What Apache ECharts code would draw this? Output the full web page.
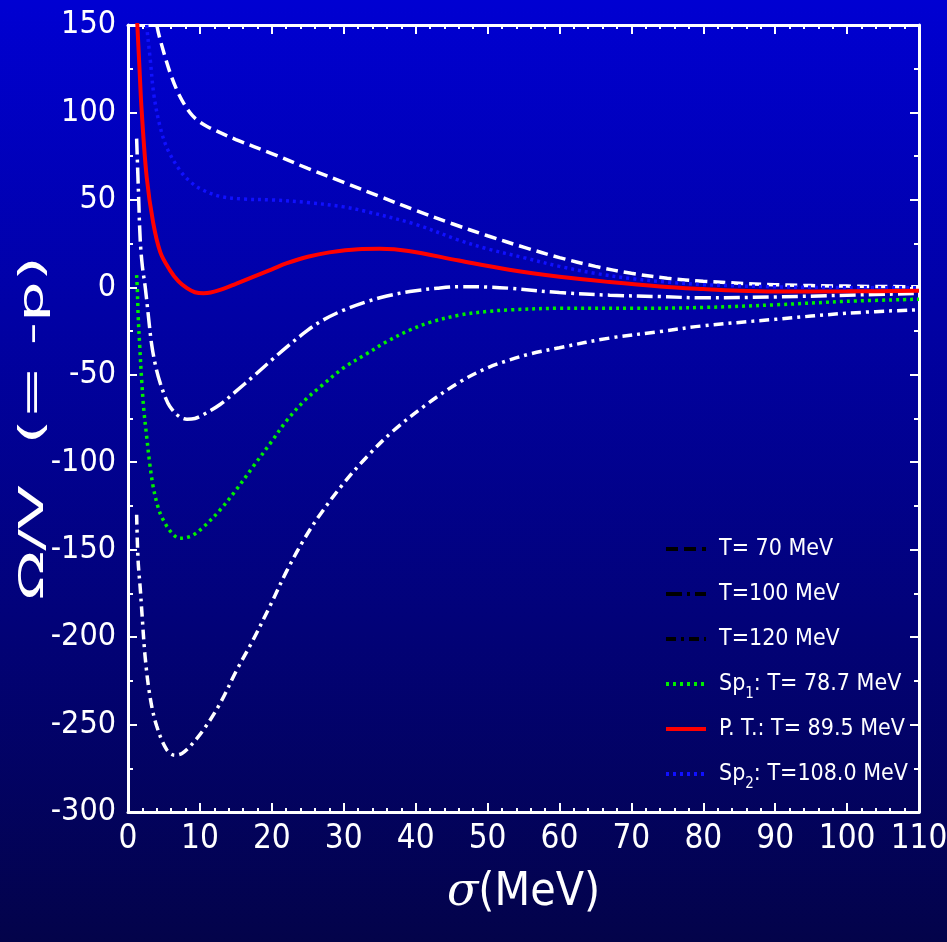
<!DOCTYPE html>
<html>
<head>
<meta charset="utf-8">
<script src="https://cdn.jsdelivr.net/npm/echarts@6/dist/echarts.min.js"></script>
<style>
  html, body { margin: 0; padding: 0; }
  #chart {
    width: 947px; height: 942px;
    background: linear-gradient(to bottom, #0000d2 0%, #03034a 100%);
  }
</style>
</head>
<body>
<div id="chart"></div>
<script>
// Thermodynamic potential curves Omega/V versus sigma (MeV)
const xTicks = [0, 10, 20, 30, 40, 50, 60, 70, 80, 90, 100, 110];
const yTicks = [-300, -250, -200, -150, -100, -50, 0, 50, 100, 150];

const seriesNames = [
  'T= 70 MeV',
  'T=100 MeV',
  'T=120 MeV',
  'Sp1: T= 78.7 MeV',
  'P. T.: T= 89.5 MeV',
  'Sp2: T=108.0 MeV'
];

// T = 70 MeV
const sigma70 = [3.4, 4, 5, 6, 7, 8, 9, 10, 11, 12, 15, 20, 25, 30, 35, 40, 45, 50, 55, 60, 65, 70, 75, 80, 90, 100, 110];
const omega70 = [170, 150, 134, 121, 111, 103.5, 98, 94.5, 92, 90, 84.5, 76.5, 68, 60, 52, 44, 36.5, 29.5, 23, 17, 12, 8, 5.2, 3.5, 1.5, 0.7, 0.3];

// T = 100 MeV
const sigma100 = [1.2, 1.45, 1.7, 2.0, 2.4, 2.8, 3.3, 3.9, 4.5, 5.2, 5.8, 7, 8.2, 9.3, 10.4, 12.8, 15, 17.4, 20, 22.1, 25, 27, 30, 33.2, 36, 39.2, 43, 46.2, 50, 53, 60, 67, 74, 80, 90, 100, 110];
const omega100 = [85, 55, 27, 12, 0, -15, -33, -46, -55, -63, -68, -73.5, -75.4, -75, -73, -67, -59.5, -51, -41.5, -34, -24.5, -19, -13, -8.2, -5, -2.4, -0.5, 0.4, 0.2, -0.5, -3, -4.5, -5.3, -6, -5.5, -4.5, -3.5];

// T = 120 MeV
const sigma120 = [1.2, 1.4, 1.7, 1.9, 2.4, 3.1, 4, 5.4, 6.5, 7.5, 8.6, 10.5, 12.8, 15.1, 17.4, 19.7, 22.1, 24.5, 26.7, 30, 33.2, 36.9, 41.5, 46.2, 50, 53.1, 56, 60, 67, 74, 80, 90, 100, 110];
const omega120 = [-130, -156, -172, -184, -212, -235, -251, -264.5, -267.5, -266.5, -262.6, -253, -238, -219, -201.6, -182.6, -162, -144, -130, -112, -97, -82, -67, -54, -46, -41.5, -38, -34.5, -29, -25.3, -22, -18.3, -14.8, -12.8];

// Spinodal 1: T = 78.7 MeV
const sigmaSp1 = [1.2, 1.3, 1.4, 1.65, 1.9, 2.2, 2.6, 3.0, 3.5, 4.2, 4.9, 6, 7.2, 8.2, 9.1, 10.5, 12.8, 15, 17.4, 20, 22.1, 24.5, 26.7, 30, 33.2, 36, 39.2, 42, 46.2, 50, 53, 60, 70, 80, 90, 100, 110];
const omegaSp1 = [7, -1.5, -15, -35, -53, -70, -85.4, -100, -114, -126, -133, -140, -143.5, -143, -141.6, -137, -127.3, -116, -102.5, -88, -76, -65, -57, -46, -38, -31, -24.4, -20, -15.8, -13.8, -12.9, -12, -12, -11.5, -10, -8, -6.8];

// Phase transition: T = 89.5 MeV
const sigmaPT = [1.0, 1.3, 1.6, 1.9, 2.6, 3.5, 4.5, 5.8, 7, 8.2, 9.3, 10.5, 11.5, 12.8, 15, 17.4, 20, 22.1, 25, 28, 32, 35, 39, 46, 53, 60, 67, 74, 80, 85, 90, 100, 110];
const omegaPT = [175, 150, 125, 101, 63, 37, 20, 10, 3.5, -0.5, -2.8, -3.4, -3, -1.5, 2, 6, 10.3, 13.8, 17.5, 20, 21.8, 22, 20.8, 15.3, 10, 6, 3, 0.5, -1, -2, -2.4, -2.3, -2];

// Spinodal 2: T = 108.0 MeV
const sigmaSp2 = [2.3, 2.6, 3.1, 3.6, 4.45, 5.5, 7.2, 8.5, 10, 12.8, 16, 20, 25, 30, 33, 40, 46, 50, 55, 60, 65, 70, 75, 80, 90, 100, 110];
const omegaSp2 = [170, 150, 130, 110, 92, 79, 67, 61, 56.5, 52, 50.5, 50, 48.5, 46, 43.5, 36, 27, 22, 17, 12, 8, 5, 3, 1.5, 0.3, -0.2, -0.3];

const pairs = (xs, ys) => xs.map((x, i) => [x, ys[i]]);

const curveData = [
  pairs(sigma70, omega70),
  pairs(sigma100, omega100),
  pairs(sigma120, omega120),
  pairs(sigmaSp1, omegaSp1),
  pairs(sigmaPT, omegaPT),
  pairs(sigmaSp2, omegaSp2)
];

const curveStyles = [
  { color: '#ffffff', width: 3.5, type: [12, 6] },
  { color: '#ffffff', width: 3.5, type: [16, 5, 3, 5] },
  { color: '#ffffff', width: 3.5, type: [10, 5, 3, 5] },
  { color: '#00ee00', width: 3.5, type: [3, 4] },
  { color: '#ff0000', width: 4, type: 'solid' },
  { color: '#1010ff', width: 3.5, type: [3, 4] }
];

// legend swatches: the three isotherms are shown in black
const legendColors = ['#000000', '#000000', '#000000', '#00ee00', '#ff0000', '#1010ff'];

const labelFont = "'Liberation Sans Narrow', 'DejaVu Sans Condensed', 'Liberation Sans', sans-serif";

const chart = echarts.init(document.getElementById('chart'), null, { renderer: 'canvas' });

const frameLine = { show: true, onZero: false, lineStyle: { color: '#ffffff', width: 3 } };
const innerTick = { show: true, inside: true, length: 9, lineStyle: { color: '#ffffff', width: 2 } };
const minorX = { show: true, splitNumber: 5, length: 4, lineStyle: { color: '#ffffff', width: 2 } };
const minorY = { show: true, splitNumber: 2, length: 5, lineStyle: { color: '#ffffff', width: 2 } };

chart.setOption({
  backgroundColor: 'transparent',
  animation: false,
  grid: { left: 128, right: 28, top: 25, bottom: 130, containLabel: false, outerBoundsMode: 'none' },
  xAxis: [
    {
      type: 'value', position: 'bottom', min: xTicks[0], max: xTicks[xTicks.length - 1], interval: 10,
      axisLine: frameLine, axisTick: innerTick, minorTick: minorX,
      splitLine: { show: false },
      axisLabel: { color: '#ffffff', fontSize: 33, fontFamily: labelFont, margin: 11 },
      name: '{i|σ}(MeV)', nameLocation: 'middle', nameGap: 58,
      nameTextStyle: {
        color: '#ffffff', fontSize: 46, fontFamily: labelFont,
        rich: { i: { fontSize: 46, fontStyle: 'italic', fontFamily: 'DejaVu Serif, serif', color: '#ffffff' } }
      }
    },
    {
      type: 'value', position: 'top', min: xTicks[0], max: xTicks[xTicks.length - 1], interval: 10,
      axisLine: frameLine, axisTick: innerTick, minorTick: minorX,
      splitLine: { show: false }, axisLabel: { show: false }
    }
  ],
  yAxis: [
    {
      type: 'value', position: 'left', min: yTicks[0], max: yTicks[yTicks.length - 1], interval: 50,
      axisLine: frameLine, axisTick: innerTick, minorTick: minorY,
      splitLine: { show: false },
      axisLabel: { color: '#ffffff', fontSize: 32, fontFamily: labelFont, margin: 12 }
    },
    {
      type: 'value', position: 'right', min: yTicks[0], max: yTicks[yTicks.length - 1], interval: 50,
      axisLine: frameLine, axisTick: innerTick, minorTick: minorY,
      splitLine: { show: false }, axisLabel: { show: false }
    }
  ],
  // vertical axis title, stretched along its reading direction
  graphic: [{
    type: 'text',
    x: 34, y: 428,
    rotation: Math.PI / 2,
    scaleX: 2.1,
    style: {
      text: 'Ω/V  (= -p)',
      fill: '#ffffff',
      font: "34px 'DejaVu Sans Condensed', 'DejaVu Sans', sans-serif",
      align: 'center',
      verticalAlign: 'middle'
    }
  }],
  legend: {
    orient: 'vertical', left: 664, top: 531, padding: 0,
    itemWidth: 40, itemHeight: 14, itemGap: 9,
    data: seriesNames.map((n, i) => ({
      name: n,
      lineStyle: { color: legendColors[i], width: 4 },
      itemStyle: { color: legendColors[i], opacity: 0 }
    })),
    formatter: name => name.replace(/^Sp(\d)/, 'Sp{s|$1}'),
    textStyle: {
      color: '#ffffff', fontSize: 23, fontFamily: labelFont, lineHeight: 36, padding: [0, 0, 0, 8],
      rich: { s: { fontSize: 15, fontFamily: labelFont, color: '#ffffff', verticalAlign: 'bottom', padding: [12, 0, 0, 0] } }
    }
  },
  series: seriesNames.map((n, i) => ({
    name: n,
    type: 'line',
    xAxisIndex: 0, yAxisIndex: 0,
    data: curveData[i],
    showSymbol: false, symbol: 'none',
    smooth: 0.35,
    clip: true,
    z: i === 4 ? 5 : 3,
    lineStyle: curveStyles[i],
    itemStyle: { color: curveStyles[i].color }
  }))
});
</script>
</body>
</html>
